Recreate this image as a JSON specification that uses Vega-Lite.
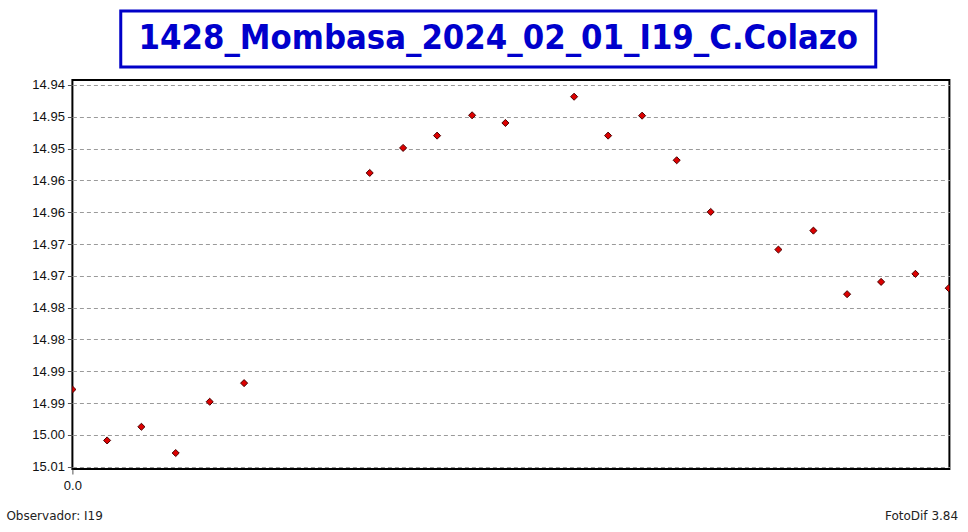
{
  "$schema": "https://vega.github.io/schema/vega-lite/v6.json",
  "padding": {"left": 6, "top": 9, "right": 0, "bottom": 0},
  "background": "white",
  "config": {"view": {"stroke": null}, "font": "Liberation Sans"},
  "datasets": {
    "heading": [{"t": "1428_Mombasa_2024_02_01_I19_C.Colazo"}],
    "obs": [
      {"t": 0, "mag": 14.99272},
      {"t": 34.7, "mag": 15.00089},
      {"t": 69, "mag": 14.9987},
      {"t": 103.3, "mag": 15.00291},
      {"t": 137.3, "mag": 14.99469},
      {"t": 171.7, "mag": 14.9917},
      {"t": 297.3, "mag": 14.958},
      {"t": 330.7, "mag": 14.95399},
      {"t": 364.7, "mag": 14.95202},
      {"t": 399.7, "mag": 14.94876},
      {"t": 433, "mag": 14.94999},
      {"t": 501.7, "mag": 14.94578},
      {"t": 535.7, "mag": 14.95202},
      {"t": 569.7, "mag": 14.94882},
      {"t": 604.3, "mag": 14.95597},
      {"t": 638.3, "mag": 14.96425},
      {"t": 706, "mag": 14.97029},
      {"t": 741, "mag": 14.96725},
      {"t": 774.7, "mag": 14.97744},
      {"t": 808.7, "mag": 14.97547},
      {"t": 843, "mag": 14.97418},
      {"t": 876.3, "mag": 14.97648}
    ]
  },
  "title": {
    "text": "Observador: I19",
    "orient": "bottom",
    "anchor": "start",
    "font": "DejaVu Sans",
    "fontSize": 12,
    "fontWeight": "normal",
    "color": "#222222",
    "baseline": "top",
    "offset": -12
  },
  "spacing": 8,
  "center": true,
  "vconcat": [
    {
      "width": 755,
      "height": 56,
      "view": {"stroke": "#0000c8", "strokeWidth": 3},
      "data": {"name": "heading"},
      "mark": {"type": "text", "font": "DejaVu Sans Condensed", "fontWeight": "bold", "fontSize": 34.3, "color": "#0000cc"},
      "encoding": {
        "text": {"field": "t"},
        "y": {"field": "t", "type": "nominal", "axis": {"orient": "right", "labels": false, "ticks": true, "tickSize": 0, "tickOpacity": 0, "domain": false, "grid": false, "title": null, "minExtent": 33, "maxExtent": 33}}
      }
    },
    {
      "width": 877,
      "height": 389,
      "view": {"stroke": "#000000", "strokeWidth": 2},
      "data": {"name": "obs"},
      "mark": {"type": "point", "shape": "diamond", "filled": true, "size": 50, "fill": "#dd0000", "stroke": "#4a0000", "strokeWidth": 1, "opacity": 1, "clip": true},
      "encoding": {
        "x": {
          "field": "t", "type": "quantitative",
          "scale": {"domain": [0, 877], "nice": false, "zero": false},
          "axis": {
            "values": [0], "format": ".1f", "labelFlush": false, "grid": false, "domain": false,
            "tickSize": 5, "tickColor": "#555555", "labelPadding": 5,
            "labelFont": "Liberation Sans", "labelFontSize": 13, "labelColor": "#111111",
            "title": "FotoDif 3.84", "titleFont": "DejaVu Sans", "titleFontSize": 12, "titleFontWeight": "normal",
            "titleColor": "#222222", "titleX": 812, "titleY": 46.5, "titleAlign": "left", "titleBaseline": "middle", "titleAnchor": "start"
          }
        },
        "y": {
          "field": "mag", "type": "quantitative",
          "scale": {"domain": [14.9431, 15.00547], "nice": false, "zero": false, "reverse": true},
          "axis": {
            "values": [14.9439, 14.949, 14.9541, 14.9592, 14.9643, 14.9694, 14.9745, 14.9796, 14.9847, 14.9898, 14.9949, 15.0, 15.0051],
            "format": ".2f", "title": null, "grid": true, "gridColor": "#9a9a9a", "gridDash": [4, 3], "gridWidth": 1,
            "domain": false, "tickSize": 5, "tickColor": "#555555", "labelPadding": 3, "minExtent": 65, "maxExtent": 65,
            "labelFont": "Liberation Sans", "labelFontSize": 13, "labelColor": "#111111"
          }
        }
      }
    }
  ]
}
